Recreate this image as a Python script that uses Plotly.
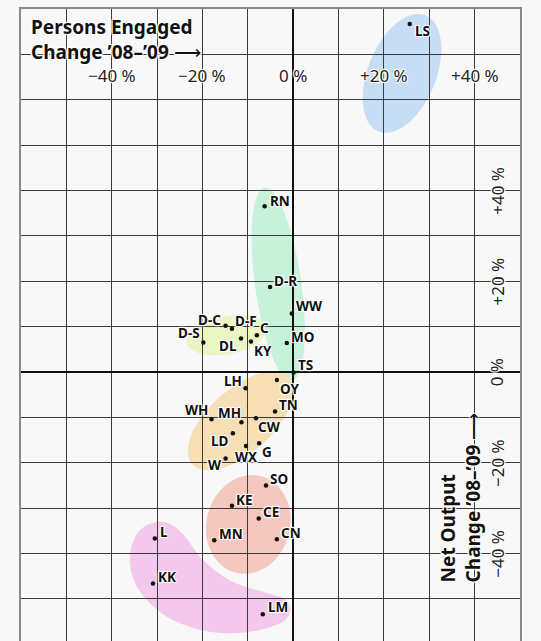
import numpy as np
import plotly.graph_objects as go

# ---- data (percent change '08-'09) ----
labels = ["LS", "RN", "D-R", "WW", "D-C", "D-F", "C", "D-S", "DL", "KY", "MO", "TS",
          "LH", "OY", "TN", "WH", "MH", "CW", "LD", "G", "WX", "W",
          "SO", "KE", "CE", "MN", "CN", "L", "KK", "LM"]
persons_engaged = [25.7, -6.3, -5.1, -0.3, -14.9, -13.5, -8.0, -19.8, -11.5, -9.3, -1.4, 0.1,
                   -10.5, -3.6, -4.0, -18.0, -11.4, -8.2, -13.3, -7.5, -10.4, -14.9,
                   -6.0, -13.5, -7.6, -17.4, -3.6, -30.5, -30.9, -6.7]
net_output = [76.7, 36.5, 18.7, 12.9, 10.2, 9.5, 8.1, 6.5, 7.4, 6.7, 6.4, -0.1,
              -3.6, -1.8, -8.7, -10.4, -11.1, -10.2, -13.5, -15.7, -16.3, -19.1,
              -25.0, -29.5, -32.3, -37.1, -36.9, -36.7, -46.6, -53.4]

# label placement relative to its dot: anchor side, x offset (px), y offset (px, down)
label_anchor = ["left", "left", "left", "left", "right", "left", "left", "right", "right", "left",
                "left", "left", "right", "left", "left", "right", "right", "left", "right", "left",
                "center", "right", "left", "left", "left", "left", "left", "left", "left", "left"]
label_dx = [4, 4, 3, 3, -4, 2, 2, -2, -3, 2, 3, 3, -3, 2, 3, -3, 1, 1, -3, 2,
            0, -3, 3, 3, 3, 4, 3, 4, 4, 4]
label_dy = [7, -5.5, -6, -7, -6, -8, -7, -9, 8, 9.5, -6, -7.3, -7, 8.5, -6.7, -9.3, -9.3, 9, 7.7, 8.4,
            10.8, 6, -6.2, -6, -7, -6.5, -6.5, -6, -6, -7]

x_ticks = [-40, -20, 0, 20, 40]
x_tick_text = ["−40 %", "−20 %", "0 %", "+20 %", "+40 %"]
y_ticks = [40, 20, 0, -20, -40]
y_tick_text = ["+40 %", "+20 %", "0 %", "−20 %", "−40 %"]

# cluster ellipses: center x, center y, semi-major, semi-minor, angle (deg), colour
clusters = [
    (24.0, 65.8, 13.8, 7.5, 68, "#c6ddf5"),
    (-14.7, 8.1, 9.0, 4.2, 10, "#ebf5c4"),
    (-3.3, 19.3, 21.5, 5.1, 98, "#c5f2d9"),
    (-11.6, -10.8, 14.3, 7.0, 42, "#f6dfb4"),
    (-9.9, -33.6, 11.0, 9.2, 75, "#f4c8be"),
]
# outline of the irregular pink cluster (L, KK, LM)
pink_x = [-29.2, -24.8, -19.8, -13.4, -6.2, -1.8, -0.7, -2.9, -10.5, -19.3, -28.1, -34.1, -36.0, -34.1]
pink_y = [-33.0, -35.2, -41.5, -46.2, -48.6, -50.1, -52.7, -55.4, -57.4, -57.1, -53.8, -47.9, -41.3, -35.2]
pink_color = "#f3c8ec"

FONT = "Noto Sans"
BG = "#f8f8f8"
HALO = ("1px 1px 1px #fff, -1px -1px 1px #fff, 1px -1px 1px #fff, "
        "-1px 1px 1px #fff, 0 0 2px #fff")


def ellipse_path(cx, cy, a, b, ang, n=72):
    t = np.linspace(0, 2 * np.pi, n, endpoint=False)
    th = np.deg2rad(ang)
    xs = cx + a * np.cos(t) * np.cos(th) - b * np.sin(t) * np.sin(th)
    ys = cy + a * np.cos(t) * np.sin(th) + b * np.sin(t) * np.cos(th)
    return "M " + " L ".join(f"{x:.3f},{y:.3f}" for x, y in zip(xs, ys)) + " Z"


def closed_spline_path(px, py, steps=16):
    px = np.array(px); py = np.array(py)
    n = len(px)
    out = []
    for i in range(n):
        p0 = np.array([px[(i - 1) % n], py[(i - 1) % n]])
        p1 = np.array([px[i], py[i]])
        p2 = np.array([px[(i + 1) % n], py[(i + 1) % n]])
        p3 = np.array([px[(i + 2) % n], py[(i + 2) % n]])
        for s in np.linspace(0, 1, steps, endpoint=False):
            s2, s3 = s * s, s * s * s
            pt = 0.5 * ((2 * p1) + (-p0 + p2) * s + (2 * p0 - 5 * p1 + 4 * p2 - p3) * s2
                        + (-p0 + 3 * p1 - 3 * p2 + p3) * s3)
            out.append(pt)
    return "M " + " L ".join(f"{p[0]:.3f},{p[1]:.3f}" for p in out) + " Z"


shapes = []
for cx, cy, a, b, ang, col in clusters:
    shapes.append(dict(type="path", xref="x", yref="y", path=ellipse_path(cx, cy, a, b, ang),
                       fillcolor=col, line=dict(width=0), layer="below"))
shapes.append(dict(type="path", xref="x", yref="y", path=closed_spline_path(pink_x, pink_y),
                   fillcolor=pink_color, line=dict(width=0), layer="below"))

fig = go.Figure()
fig.add_trace(go.Scatter(
    x=persons_engaged, y=net_output, mode="markers",
    marker=dict(size=4.5, color="#111111"),
    hoverinfo="skip", showlegend=False, cliponaxis=False,
))

annotations = []
for lab, xv, yv, anc, dx, dy in zip(labels, persons_engaged, net_output, label_anchor, label_dx, label_dy):
    annotations.append(dict(x=xv, y=yv, xref="x", yref="y", text=f"<b>{lab}</b>", showarrow=False,
                            xanchor=anc, yanchor="middle", xshift=dx, yshift=-dy, borderpad=0,
                            font=dict(family=FONT, size=13.5, color="#111111", shadow=HALO)))
for v, t in zip(x_ticks, x_tick_text):
    annotations.append(dict(x=v, y=65.3, xref="x", yref="y", text=t, showarrow=False,
                            xanchor="center", yanchor="middle",
                            font=dict(family=FONT, size=17, color="#222222", shadow=HALO)))
for v, t in zip(y_ticks, y_tick_text):
    annotations.append(dict(x=45, y=v, xref="x", yref="y", text=t, showarrow=False,
                            textangle=-90, xanchor="center", yanchor="middle",
                            font=dict(family=FONT, size=17, color="#222222", shadow=HALO)))

annotations.append(dict(x=-58.2, y=79.3, xref="x", yref="y", showarrow=False,
                        text="<b>Persons Engaged</b><br><b>Change ’08–’09</b> ⟶",
                        align="left", xanchor="left", yanchor="top",
                        font=dict(family=FONT, size=19, color="#111111", shadow=HALO)))
annotations.append(dict(x=36.8, y=-46.8, xref="x", yref="y", showarrow=False,
                        text="<b>Net Output</b><br><b>Change ’08–’09</b> ⟶",
                        align="left", textangle=-90, xanchor="center", yanchor="bottom",
                        font=dict(family=FONT, size=19, color="#111111", shadow=HALO)))

fig.update_layout(
    width=541, height=641,
    margin=dict(l=21, r=21, t=9, b=0, pad=0),
    paper_bgcolor=BG, plot_bgcolor=BG,
    shapes=shapes, annotations=annotations,
    font=dict(family=FONT),
)
fig.update_xaxes(range=[-60, 50], dtick=10, tick0=0, showticklabels=False, ticks="",
                 showgrid=True, gridcolor="#3a3a3a", gridwidth=1,
                 zeroline=True, zerolinecolor="#111111", zerolinewidth=1.6,
                 showline=True, linecolor="#8a8a8a", linewidth=2, side="top", mirror=False,
                 fixedrange=True)
fig.update_yaxes(range=[-59.3, 80], dtick=10, tick0=0, showticklabels=False, ticks="",
                 showgrid=True, gridcolor="#3a3a3a", gridwidth=1,
                 zeroline=True, zerolinecolor="#111111", zerolinewidth=1.6,
                 showline=True, linecolor="#8a8a8a", linewidth=2, mirror=True,
                 fixedrange=True)

fig.write_html("out.html", config={"displayModeBar": False},
               post_script="document.body.style.margin='0';document.body.style.background='#f8f8f8';")
